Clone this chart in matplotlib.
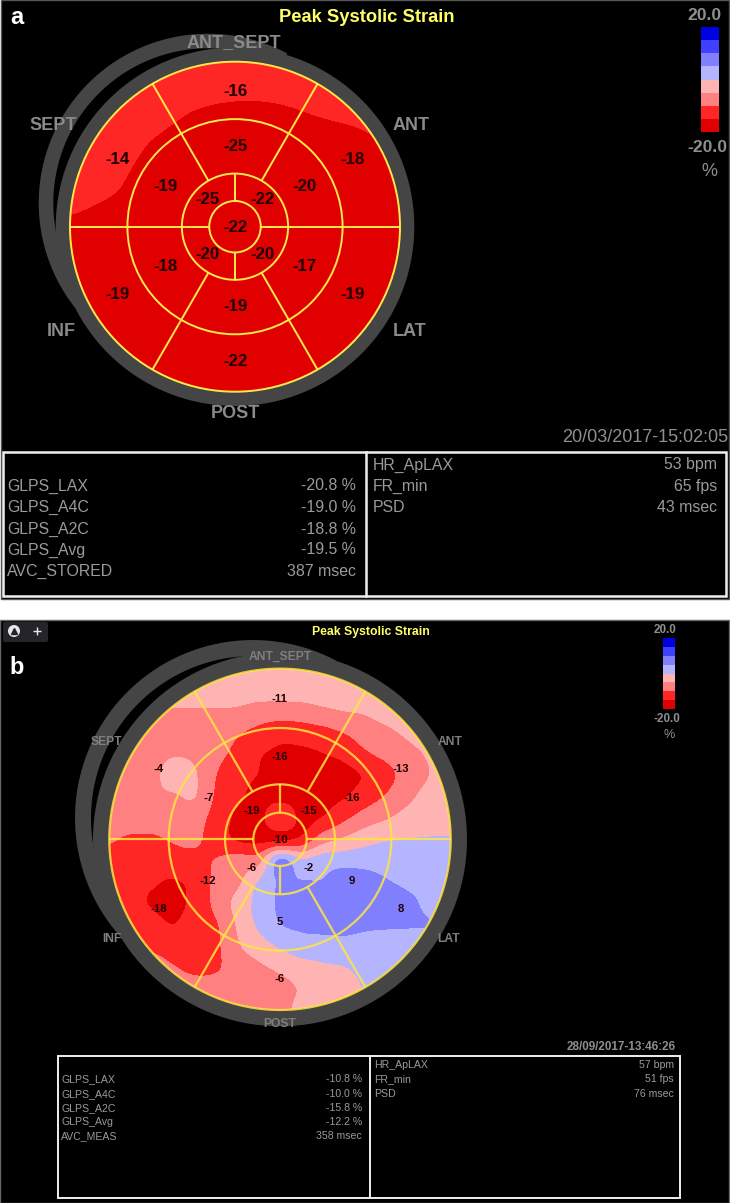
import numpy as np
import matplotlib
matplotlib.use('Agg')
import matplotlib.pyplot as plt
from matplotlib.colors import ListedColormap, BoundaryNorm
from matplotlib.patches import Circle, Rectangle, FancyBboxPatch

plt.rcParams['font.family'] = ['Liberation Sans', 'DejaVu Sans']

# strain scale
band_edges = [-20, -15, -10, -5, 0, 5, 10, 15, 20]
band_colors = ['#e00000', '#ff2626', '#ff8080', '#ffb4b4',
               '#b4b4ff', '#8080ff', '#4040ff', '#0000e0']
scale_cells = [17.5, 12.5, 7.5, 2.5, -2.5, -7.5, -12.5, -17.5]

wall_labels = ['ANT_SEPT', 'ANT', 'LAT', 'POST', 'INF', 'SEPT']
title = 'Peak Systolic Strain'

# segment values, clockwise from the top
a_outer = [-16, -18, -19, -22, -19, -14]
a_mid = [-25, -20, -17, -19, -18, -19]
a_inner = [-22, -20, -20, -25]
a_apex = -22
b_outer = [-11, -13, 8, -6, -18, -4]
b_mid = [-16, -16, 9, 5, -12, -7]
b_inner = [-15, -2, -6, -19]
b_apex = -10

a_date = '20/03/2017-15:02:05'
b_date = '28/09/2017-13:46:26'

a_left_names = ['GLPS_LAX', 'GLPS_A4C', 'GLPS_A2C', 'GLPS_Avg', 'AVC_STORED']
a_left_values = ['-20.8 %', '-19.0 %', '-18.8 %', '-19.5 %', '387 msec']
a_right_names = ['HR_ApLAX', 'FR_min', 'PSD']
a_right_values = ['53 bpm', '65 fps', '43 msec']
b_left_names = ['GLPS_LAX', 'GLPS_A4C', 'GLPS_A2C', 'GLPS_Avg', 'AVC_MEAS']
b_left_values = ['-10.8 %', '-10.0 %', '-15.8 %', '-12.2 %', '358 msec']
b_right_names = ['HR_ApLAX', 'FR_min', 'PSD']
b_right_values = ['57 bpm', '51 fps', '76 msec']

# strain, on an even grid over the circle's bounding square,
# rows from top to bottom
a_map = [
    [-13, -13, -13, -13, -13, -13, -13, -13, -13],
    [-13, -13, -13, -14.6, -15.1, -15, -14.4, -13.8, -13],
    [-13, -13, -15.3, -17, -17, -17, -16.3, -15.8, -14.6],
    [-13, -14.4, -17, -17, -17, -17, -17, -17, -16.5],
    [-15.8, -17, -17, -17, -17, -17, -17, -17, -17],
    [-17, -17, -17, -17, -17, -17, -17, -17, -17],
    [-17, -17, -17, -17, -17, -17, -17, -17, -17],
    [-17, -17, -17, -17, -17, -17, -17, -17, -17],
    [-17, -17, -17, -17, -17, -17, -17, -17, -17],
]
b_map = [
    [-3, -3, -3, -3, -3, -3, -3, -3, -3, -3, -3, -3, -3, -3, -3, -3, -3],
    [-3, -3, -3, -3, -3, -3, -3, -3, -3, -3, -3, -3, -3, -3, -3, -3, -3],
    [-6, -6, -6, -5.4, -5.4, -5.4, -5.8, -7.2, -7.5, -7.2, -6, -5.1, -4.6, -3.5, -3, -3, -3],
    [-7, -7, -7, -7, -7, -7.5, -9.5, -11.5, -13.2, -12.8, -11.8, -10, -7.7, -6, -4.3, -3, -3],
    [-7, -7, -7, -5.5, -6, -8.6, -11.5, -14.5, -16, -16, -15.2, -13.8, -10.8, -8.8, -6.5, -4.5, -3],
    [-7, -7, -6.5, -3, -4.6, -10, -13.5, -15.2, -17, -17, -17, -16.5, -14.5, -11.5, -8, -5, -3],
    [-7, -7, -6, -5.6, -5, -10.8, -14.2, -16.5, -17, -17, -16.5, -15.4, -12.5, -9.6, -6.2, -3.5, -3],
    [-7, -7, -7, -7, -8, -12, -16, -17, -10, -16.5, -14.8, -11.2, -7.8, -5.5, -3.3, -2.5, -2],
    [-9.5, -11, -11, -9.6, -9.2, -12.5, -15.6, -16.5, -16, -14, -7.5, -4.5, -2, -0.5, 0, 0.3, 0.3],
    [-12, -13, -13, -12, -11.5, -9.8, -8, -7, 5.5, 0.5, 2.5, 3, 3, 3, 3, 3, 3],
    [-13, -14, -14.5, -15.5, -13.5, -9, -6.2, 0.1, 5.5, 5.3, 5.3, 7.5, 7, 5.3, 4, 3.5, 3],
    [-13, -13.5, -15.5, -17.5, -13, -9, -3.5, 1.5, 5.8, 8, 8, 8.5, 8.5, 8, 6, 4, 3],
    [-12, -12, -13, -15, -12, -10.5, -4.6, 0.7, 4.7, 6, 6.5, 6.3, 5.7, 5.5, 5.3, 5, 3.5],
    [-9, -9, -11, -12.5, -12.5, -11, -5.8, -2.5, 0.5, 2.5, 2.8, 3.5, 3.5, 3.3, 3, 3, 3],
    [-8, -8, -8, -9.8, -11, -10.5, -8, -6, -4, -2, -0.8, -0.2, 1.5, 3, 3, 3, 3],
    [-8, -8, -8, -8, -8.5, -8.5, -8, -8, -7, -4.5, -3, -2.5, 0.2, 1, 1, 1, 1],
    [-8, -8, -8, -8, -8, -8, -8, -8, -7, -3.5, -3, -3, -1, 0, 0, 0, 0],
]


def upsample(grid, factor):
    # Catmull-Rom along both axes so the contour edges come out smooth
    def along_rows(z):
        n = z.shape[1]
        pos = np.linspace(0, n - 1, (n - 1) * factor + 1)
        i = np.clip(pos.astype(int), 0, n - 2)
        t = (pos - i)[None, :]
        p0 = z[:, np.clip(i - 1, 0, n - 1)]
        p1 = z[:, i]
        p2 = z[:, i + 1]
        p3 = z[:, np.clip(i + 2, 0, n - 1)]
        return 0.5 * (2 * p1 + (p2 - p0) * t + (2 * p0 - 5 * p1 + 4 * p2 - p3) * t ** 2
                      + (3 * p1 - p0 - 3 * p2 + p3) * t ** 3)
    return along_rows(along_rows(grid).T).T


def draw_map(ax, grid, cx, cy, radius, line_color, line_width, line_alpha):
    grid = np.array(grid, dtype=float)
    fine = upsample(grid, 480 // (grid.shape[0] - 1))
    n_rows, n_cols = fine.shape
    xs = cx + radius * np.linspace(-1, 1, n_cols)
    ys = cy + radius * np.linspace(-1, 1, n_rows)

    clip = Circle((cx, cy), radius, transform=ax.transData)
    cs = ax.contourf(xs, ys, fine, levels=band_edges, colors=band_colors, extend='both', zorder=2)
    cs.set_clip_path(clip)

    # bullseye grid
    r_mid, r_inner, r_apex = radius * 0.652, radius * 0.322, radius * 0.156
    for r in [radius, r_mid, r_inner, r_apex]:
        ax.add_patch(Circle((cx, cy), r, fill=False, edgecolor=line_color, linewidth=line_width,
                            alpha=line_alpha, zorder=3))
    for angle, r0, r1 in [(0, r_apex, radius), (180, r_apex, radius),
                          (60, r_inner, radius), (120, r_inner, radius),
                          (240, r_inner, radius), (300, r_inner, radius),
                          (90, r_apex, r_inner), (270, r_apex, r_inner)]:
        t = np.deg2rad(angle)
        ax.plot([cx + r0 * np.cos(t), cx + r1 * np.cos(t)],
                [cy - r0 * np.sin(t), cy - r1 * np.sin(t)],
                color=line_color, linewidth=line_width, alpha=line_alpha, zorder=3, solid_capstyle='butt')


def draw_band(ax, ring, swirl, width):
    # myocardial band: a closed ring and a second arc that swirls over the top left
    cx, cy, r = ring
    ax.add_patch(Circle((cx, cy), r, fill=False, edgecolor='#454545', linewidth=width, zorder=1))
    sx, sy, sr = swirl
    t = np.deg2rad(np.linspace(62, 228, 140))
    ax.plot(sx + sr * np.cos(t), sy - sr * np.sin(t), color='#454545', linewidth=width,
            zorder=1, solid_capstyle='butt')


def draw_values(ax, cx, cy, radius, outer, mid, inner, apex, size):
    ring_angles = [90, 30, -30, -90, -150, 150]
    inner_angles = [45, -45, -135, 135]
    style = dict(ha='center', va='center', fontsize=size, fontweight='bold', color='#200000', zorder=4)
    for value, angle in zip(outer, ring_angles):
        t = np.deg2rad(angle)
        ax.text(cx + 0.82 * radius * np.cos(t), cy - 0.82 * radius * np.sin(t), str(value), **style)
    for value, angle in zip(mid, ring_angles):
        t = np.deg2rad(angle)
        ax.text(cx + 0.485 * radius * np.cos(t), cy - 0.485 * radius * np.sin(t), str(value), **style)
    for value, angle in zip(inner, inner_angles):
        t = np.deg2rad(angle)
        ax.text(cx + 0.235 * radius * np.cos(t), cy - 0.235 * radius * np.sin(t), str(value), **style)
    ax.text(cx, cy + 1, str(apex), **style)


def draw_scale(ax, x0, x1, y0, y1):
    cmap = ListedColormap(band_colors)
    norm = BoundaryNorm(band_edges, cmap.N)
    cells = np.array(scale_cells)[:, None]
    ax.pcolormesh([x0, x1], np.linspace(y0, y1, len(scale_cells) + 1), cells, cmap=cmap, norm=norm, zorder=2)


def draw_table(ax, box, rows_y, left_names, left_values, right_names, right_values, size, edge):
    left, mid, right, top, bottom, text_left, left_val, text_right, right_val = box
    ax.add_patch(Rectangle((left, top), right - left, bottom - top, fill=False, edgecolor='#f0f0f0', linewidth=edge, zorder=2))
    ax.plot([mid, mid], [top, bottom], color='#f0f0f0', linewidth=edge, zorder=2)
    style = dict(va='center', fontsize=size, color='#9a9a9a', zorder=3)
    for name, value, y in zip(left_names, left_values, rows_y[1:]):
        ax.text(text_left, y, name, ha='left', **style)
        ax.text(left_val, y, value, ha='right', **style)
    for name, value, y in zip(right_names, right_values, rows_y):
        ax.text(text_right, y, name, ha='left', **style)
        ax.text(right_val, y, value, ha='right', **style)


fig = plt.figure(figsize=(7.30, 12.03), dpi=100, facecolor='white')
ax = fig.add_axes([0, 0, 1, 1])
ax.set_xlim(0, 730)
ax.set_ylim(1203, 0)
ax.axis('off')

# panel backgrounds
ax.add_patch(Rectangle((1, 0), 728, 599, facecolor='black', edgecolor='#555555', linewidth=1, zorder=0))
ax.add_patch(Rectangle((0, 620), 729, 583, facecolor='black', edgecolor='#666666', linewidth=1, zorder=0))

# panel a
draw_band(ax, (235, 226.7, 172), (208, 203, 162), 10.5)
draw_map(ax, a_map, 235, 226.7, 165, '#ffe94a', 1.4, 1.0)
draw_values(ax, 235, 226.7, 165, a_outer, a_mid, a_inner, a_apex, 12.2)
for name, x, y in zip(wall_labels, [234, 411, 410, 235, 61, 53], [43, 126, 331, 414, 331, 126]):
    ax.text(x, y, name, ha='center', va='center', fontsize=13, fontweight='bold', color='#8a8a8a', zorder=4)
ax.text(367, 17, title, ha='center', va='center', fontsize=13.2, fontweight='bold', color='#ffff66', zorder=4)
draw_scale(ax, 701, 719, 27, 132)
ax.text(704, 15, '20.0', ha='center', va='center', fontsize=12.6, fontweight='bold', color='#8f8f8f')
ax.text(707, 148, '-20.0', ha='center', va='center', fontsize=12.6, fontweight='bold', color='#8f8f8f')
ax.text(709, 172, '%', ha='center', va='center', fontsize=13, color='#8f8f8f')
ax.text(728, 438, a_date, ha='right', va='center', fontsize=13, color='#8f8f8f')
draw_table(ax, (3, 366, 726, 452, 596, 7, 356, 373, 717), [465, 486, 507.7, 529, 550, 571],
           a_left_names, a_left_values, a_right_names, a_right_values, 11.4, 1.8)
ax.text(17, 17, 'a', ha='center', va='center', fontsize=17, fontweight='bold', color='white', zorder=5)

# panel b
draw_band(ax, (280, 839.3, 179), (253, 818, 170), 11.5)
draw_map(ax, b_map, 280, 839.3, 170.7, '#ffe640', 1.6, 0.85)
draw_values(ax, 280, 839.3, 170.7, b_outer, b_mid, b_inner, b_apex, 8.2)
for name, x, y in zip(wall_labels, [280, 450, 449, 280, 112, 106], [657, 742, 939, 1024, 939, 742]):
    ax.text(x, y, name, ha='center', va='center', fontsize=8.7, fontweight='bold', color='#7f7f7f', zorder=4)
ax.text(371, 632, title, ha='center', va='center', fontsize=8.8, fontweight='bold', color='#ffff66', zorder=4)
draw_scale(ax, 663, 675, 638, 709)
ax.text(665, 630, '20.0', ha='center', va='center', fontsize=8.4, fontweight='bold', color='#8f8f8f')
ax.text(667, 719, '-20.0', ha='center', va='center', fontsize=8.4, fontweight='bold', color='#8f8f8f')
ax.text(669, 735, '%', ha='center', va='center', fontsize=9, color='#8f8f8f')
ax.text(676, 1047, b_date, ha='right', va='center', fontsize=8.4, fontweight='bold', color='#8f8f8f')
draw_table(ax, (58, 370, 680, 1056, 1198, 61, 362, 374, 674), [1065, 1079, 1094, 1108, 1122, 1136],
           b_left_names, b_left_values, b_right_names, b_right_values, 7.6, 1.4)
ax.text(17, 667, 'b', ha='center', va='center', fontsize=17, fontweight='bold', color='white', zorder=5)

# viewer toolbar in the corner of b
ax.add_patch(FancyBboxPatch((5, 624), 41, 16, boxstyle='round,pad=2', facecolor='#24242a', edgecolor='none', zorder=2))
ax.add_patch(Circle((14, 631), 6, facecolor='#e8e8e8', edgecolor='none', zorder=3))
ax.plot([14], [630.5], marker='^', markersize=4, color='#24242a', zorder=4)
ax.plot([37], [631], marker='+', markersize=6, markeredgewidth=1, color='#e8e8e8', zorder=3)

fig.savefig('out.png', dpi=100, facecolor='white')
